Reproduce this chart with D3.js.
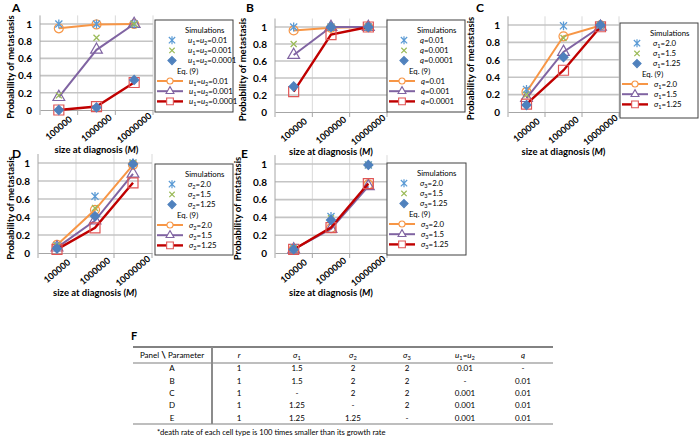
<!doctype html>
<html lang="en">
<head>
<meta charset="utf-8">
<title>Probability of metastasis</title>
<script src="https://d3js.org/d3.v7.min.js"></script>
<style>
body { margin: 0; background: #fff; }
svg text { font-family: Lato, "Open Sans", sans-serif; fill: #000; }
</style>
</head>
<body>
<svg id="fig" width="700" height="437"></svg>
<script>
// ---- data ----
var sizes = ["100000", "1000000", "10000000"];
var yTicks = [0, 0.2, 0.4, 0.6, 0.8, 1];

var labelsA = ["*u*_1=*u*_2=0.01", "*u*_1=*u*_2=0.001", "*u*_1=*u*_2=0.0001"];
var simA = [[1, 1, 1], [0.17, 0.84, 1], [0, 0.03, 0.35]];
var eqA  = [[0.95, 0.995, 1], [0.15, 0.70, 1], [0, 0.04, 0.32]];

var labelsB = ["*q*=0.01", "*q*=0.001", "*q*=0.0001"];
var simB = [[1, 1, 1], [0.80, 1, 1], [0.30, 1, 1]];
var eqB  = [[0.96, 0.99, 1], [0.67, 1, 1], [0.24, 0.91, 1]];

var labelsC = ["*σ*_1=2.0", "*σ*_1=1.5", "*σ*_1=1.25"];
var simC = [[0.26, 0.99, 1], [0.20, 0.85, 1], [0.08, 0.63, 1]];
var eqC  = [[0.23, 0.87, 0.995], [0.16, 0.69, 0.98], [0.09, 0.48, 0.98]];

var labelsD = ["*σ*_2=2.0", "*σ*_2=1.5", "*σ*_2=1.25"];
var simD = [[0.08, 0.63, 1], [0.08, 0.50, 1], [0.05, 0.41, 0.99]];
var eqD  = [[0.09, 0.48, 0.98], [0.06, 0.36, 0.88], [0.04, 0.28, 0.78]];

var labelsE = ["*σ*_3=2.0", "*σ*_3=1.5", "*σ*_3=1.25"];
var simE = [[0.06, 0.41, 0.99], [0.05, 0.39, 0.99], [0.04, 0.37, 0.99]];
var eqE  = [[0.04, 0.28, 0.77], [0.04, 0.27, 0.75], [0.04, 0.285, 0.78]];

var tableHead = ["Panel \\ Parameter", "*r*", "*σ*_1", "*σ*_2", "*σ*_3", "*u*_1=*u*_2", "*q*"];
var tableRows = [
  ["A", "1", "1.5", "2", "2", "0.01", "-"],
  ["B", "1", "1.5", "2", "2", "-", "0.01"],
  ["C", "1", "-", "2", "2", "0.001", "0.01"],
  ["D", "1", "1.25", "-", "2", "0.001", "0.01"],
  ["E", "1", "1.25", "1.25", "-", "0.001", "0.01"]
];
var footnote = "*death rate of each cell type is 100 times smaller than its growth rate";

// ---- layout ----
var panels = [
  {key: "A", sim: simA, eq: eqA, lab: labelsA, x0: 40, x1: 153, yTop: 24, y0: 110, lx: 155, ly: 20, lw: 78, lh: 92, letter: [12, 12], yt: 11},
  {key: "B", sim: simB, eq: eqB, lab: labelsB, x0: 275, x1: 387, yTop: 27, y0: 112, lx: 387, ly: 20, lw: 78, lh: 92, letter: [246, 12], yt: 243},
  {key: "C", sim: simC, eq: eqC, lab: labelsC, x0: 508, x1: 619, yTop: 25, y0: 112, lx: 620, ly: 23, lw: 78, lh: 95, letter: [476, 12], yt: 471},
  {key: "D", sim: simD, eq: eqD, lab: labelsD, x0: 38, x1: 152, yTop: 163, y0: 253, lx: 155, ly: 164, lw: 78, lh: 91, letter: [12, 158], yt: 11},
  {key: "E", sim: simE, eq: eqE, lab: labelsE, x0: 275, x1: 387, yTop: 164, y0: 253, lx: 387, ly: 163, lw: 79, lh: 92, letter: [241, 158], yt: 238}
];

var asterisk = {draw: function(c, s) {
  var r = Math.sqrt(s) / 2;
  c.moveTo(-r, -r); c.lineTo(r, r);
  c.moveTo(-r, r); c.lineTo(r, -r);
  c.moveTo(0, -r * 1.25); c.lineTo(0, r * 1.25);
}};
var times = {draw: function(c, s) {
  var r = Math.sqrt(s) / 2;
  c.moveTo(-r, -r); c.lineTo(r, r);
  c.moveTo(-r, r); c.lineTo(r, -r);
}};
var diamond = {draw: function(c, s) {
  var r = Math.sqrt(s / 2);
  c.moveTo(0, -r); c.lineTo(r, 0); c.lineTo(0, r); c.lineTo(-r, 0); c.closePath();
}};

var simStyle = [
  {type: asterisk, size: 50, stroke: "#5b9bd5", fill: "none"},
  {type: times, size: 36, stroke: "#9bbb59", fill: "none"},
  {type: diamond, size: 40, stroke: "#4f81bd", fill: "#4f81bd"}
];
var eqStyle = [
  {type: d3.symbolCircle, size: 64, line: "#f79646", stroke: "#f79646", width: 2},
  {type: d3.symbolTriangle, size: 60, line: "#8064a2", stroke: "#8064a2", width: 2},
  {type: d3.symbolSquare, size: 100, line: "#c00000", stroke: "#e05555", width: 2.4}
];

var svg = d3.select("#fig");

// text with *italic* and _s subscripts
function rich(sel, str) {
  var parts = str.match(/\*[^*]+\*|_[^_*]|[^*_]+/g);
  var shifted = false;
  parts.forEach(function(p) {
    var t;
    if (p[0] === "_") {
      t = sel.append("tspan").attr("dy", 2).attr("font-size", "72%").text(p.slice(1));
      shifted = true;
      return;
    }
    if (p[0] === "*") t = sel.append("tspan").style("font-style", "italic").text(p.slice(1, -1));
    else t = sel.append("tspan").text(p);
    if (shifted) { t.attr("dy", -2); shifted = false; }
  });
}

function drawPanel(p) {
  var g = svg.append("g");
  var x = d3.scaleBand().domain(sizes).range([p.x0, p.x1]);
  var y = d3.scaleLinear().domain([0, 1]).range([p.y0, p.yTop]);
  var cx = function(d) { return x(d) + x.bandwidth() / 2; };
  var bounds = sizes.map(function(d) { return x(d); }).concat([p.x1]);

  // grid
  g.selectAll(".vg").data(bounds.slice(1)).enter().append("line")
    .attr("x1", function(d) { return d; }).attr("x2", function(d) { return d; })
    .attr("y1", y(1.1)).attr("y2", p.y0)
    .attr("stroke", "#d9d9d9").attr("stroke-width", 1);
  g.selectAll(".hg").data(yTicks.slice(1)).enter().append("line")
    .attr("x1", p.x0).attr("x2", p.x1)
    .attr("y1", function(d) { return y(d); }).attr("y2", function(d) { return y(d); })
    .attr("stroke", "#c4c4c4").attr("stroke-width", 1.6);

  // y axis
  var ya = g.append("g").attr("transform", "translate(" + p.x0 + ",0)")
    .call(d3.axisLeft(y).tickValues(yTicks).tickSize(0).tickPadding(8).tickFormat(d3.format("~g")));
  ya.select(".domain").remove();
  ya.selectAll("text").attr("font-size", 10).attr("font-weight", "bold").attr("font-family", "Lato, sans-serif");
  g.append("line").attr("x1", p.x0).attr("x2", p.x0).attr("y1", y(1.1)).attr("y2", p.y0)
    .attr("stroke", "#a6a6a6");

  // x axis
  var xa = g.append("g").attr("transform", "translate(0," + p.y0 + ")")
    .call(d3.axisBottom(x).tickSize(0).tickSizeOuter(0));
  xa.select(".domain").attr("stroke", "#a6a6a6");
  xa.selectAll("text").attr("y", 0).attr("dy", "0.35em")
    .attr("transform", "translate(0,18) rotate(-40)")
    .attr("text-anchor", "middle")
    .attr("font-size", 9).attr("font-weight", "bold").attr("font-family", "Lato, sans-serif");
  g.selectAll(".xt").data(bounds).enter().append("line")
    .attr("x1", function(d) { return d; }).attr("x2", function(d) { return d; })
    .attr("y1", p.y0).attr("y2", p.y0 + 5).attr("stroke", "#a6a6a6");

  // titles
  g.append("text").attr("x", p.letter[0]).attr("y", p.letter[1])
    .attr("font-size", 12).attr("font-weight", "bold").text(p.key);
  g.append("text")
    .attr("transform", "translate(" + p.yt + "," + ((p.y0 + p.yTop) / 2) + ") rotate(-90)")
    .attr("text-anchor", "middle").attr("dy", "0.35em")
    .attr("font-size", 9.5).attr("font-weight", "bold").text("Probability of metastasis");
  var xt = g.append("text").attr("x", (p.x0 + p.x1) / 2).attr("y", p.y0 + 43)
    .attr("text-anchor", "middle").attr("font-size", 9.5).attr("font-weight", "bold");
  xt.append("tspan").text("size at diagnosis (");
  xt.append("tspan").style("font-style", "italic").text("M");
  xt.append("tspan").text(")");

  // model lines
  var line = d3.line().x(function(d, i) { return cx(sizes[i]); }).y(function(d) { return y(d); });
  p.eq.forEach(function(vals, i) {
    var s = eqStyle[i];
    g.append("path").datum(vals).attr("d", line)
      .attr("fill", "none").attr("stroke", s.line).attr("stroke-width", s.width);
    g.selectAll(".em" + i).data(vals).enter().append("path")
      .attr("transform", function(d, j) { return "translate(" + cx(sizes[j]) + "," + y(d) + ")"; })
      .attr("d", d3.symbol().type(s.type).size(s.size))
      .attr("fill", "none").attr("stroke", s.stroke).attr("stroke-width", 1.2);
  });

  // simulation markers
  p.sim.forEach(function(vals, i) {
    var s = simStyle[i];
    g.selectAll(".sm" + i).data(vals).enter().append("path")
      .attr("transform", function(d, j) { return "translate(" + cx(sizes[j]) + "," + y(d) + ")"; })
      .attr("d", d3.symbol().type(s.type).size(s.size))
      .attr("fill", s.fill).attr("stroke", s.stroke).attr("stroke-width", 1.3);
  });

  // legend
  var lg = g.append("g").attr("transform", "translate(" + p.lx + "," + p.ly + ")");
  lg.append("rect").attr("width", p.lw).attr("height", p.lh)
    .attr("fill", "#fff").attr("stroke", "#404040").attr("stroke-width", 1);
  var row = function(k) { return 10 + k * 10.2; };
  lg.append("text").attr("x", 30).attr("y", row(0)).attr("dy", "0.35em")
    .attr("font-size", 7.8).text("Simulations");
  p.lab.forEach(function(l, i) {
    var s = simStyle[i];
    lg.append("path").attr("transform", "translate(17," + row(i + 1) + ")")
      .attr("d", d3.symbol().type(s.type).size(s.size * 0.8))
      .attr("fill", s.fill).attr("stroke", s.stroke).attr("stroke-width", 1.2);
    rich(lg.append("text").attr("x", 33).attr("y", row(i + 1)).attr("dy", "0.35em").attr("font-size", 7.8), l);
  });
  lg.append("text").attr("x", 22).attr("y", row(4)).attr("dy", "0.35em")
    .attr("font-size", 7.8).text("Eq. (9)");
  p.lab.forEach(function(l, i) {
    var s = eqStyle[i], yy = row(i + 5);
    lg.append("line").attr("x1", 2).attr("x2", 28).attr("y1", yy).attr("y2", yy)
      .attr("stroke", s.line).attr("stroke-width", s.width);
    lg.append("path").attr("transform", "translate(15," + yy + ")")
      .attr("d", d3.symbol().type(s.type).size(s.size * 0.45))
      .attr("fill", "#fff").attr("stroke", s.stroke).attr("stroke-width", 1.1);
    rich(lg.append("text").attr("x", 34).attr("y", yy).attr("dy", "0.35em").attr("font-size", 7.8), l);
  });
}

panels.forEach(drawPanel);

// ---- table F ----
var colX = [172, 239, 297, 353, 407, 465, 523];
var tTop = 347, tHead = 363, tBot = 424, tLeft = 133, tRight = 553;
var rowY = d3.scaleLinear().domain([0, 4]).range([368.5, 418]);
var tg = svg.append("g");
tg.append("text").attr("x", 131).attr("y", 340).attr("font-size", 11).attr("font-weight", "bold").text("F");
tg.append("line").attr("x1", tLeft).attr("x2", tRight).attr("y1", tTop).attr("y2", tTop)
  .attr("stroke", "#595959").attr("stroke-width", 1.5);
tg.append("line").attr("x1", tLeft).attr("x2", tRight).attr("y1", tHead).attr("y2", tHead)
  .attr("stroke", "#7f7f7f").attr("stroke-width", 1.2);
tg.append("line").attr("x1", tLeft).attr("x2", tRight).attr("y1", tBot).attr("y2", tBot)
  .attr("stroke", "#7f7f7f").attr("stroke-width", 1.2);
tg.append("line").attr("x1", 212).attr("x2", 212).attr("y1", tTop).attr("y2", tBot)
  .attr("stroke", "#8c8c8c").attr("stroke-width", 2);

var h0 = tg.append("text").attr("x", colX[0]).attr("y", 355).attr("dy", "0.35em")
  .attr("text-anchor", "middle").attr("font-size", 8);
var hp = tableHead[0].split("\\");
h0.append("tspan").text(hp[0]);
h0.append("tspan").attr("font-weight", "bold").attr("font-size", 10).text("\\");
h0.append("tspan").text(hp[1]);
tableHead.slice(1).forEach(function(h, i) {
  rich(tg.append("text").attr("x", colX[i + 1]).attr("y", 355).attr("dy", "0.35em")
    .attr("text-anchor", "middle").attr("font-size", 8), h);
});
tableRows.forEach(function(r, ri) {
  r.forEach(function(c, ci) {
    tg.append("text").attr("x", colX[ci]).attr("y", rowY(ri)).attr("dy", "0.35em")
      .attr("text-anchor", "middle").attr("font-size", 8).text(c);
  });
});
tg.append("text").attr("x", 157).attr("y", 432).attr("dy", "0.35em")
  .attr("font-size", 7.6).text(footnote);
</script>
</body>
</html>
